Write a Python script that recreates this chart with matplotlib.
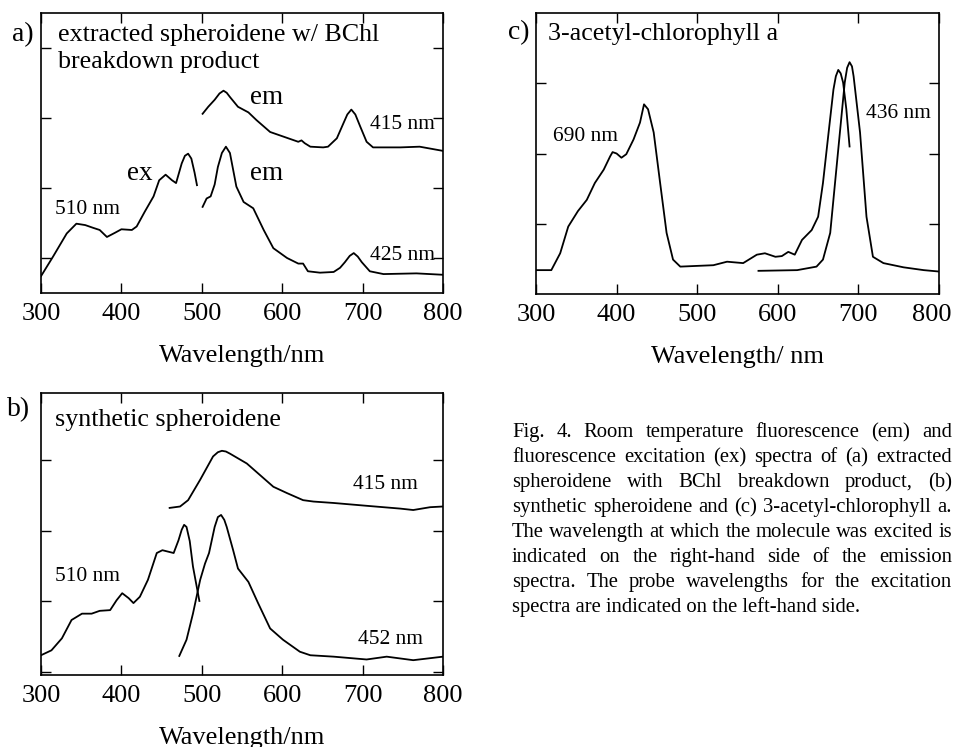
import matplotlib.pyplot as plt
import matplotlib.transforms as mtransforms

plt.rcParams['font.family'] = ['Liberation Serif', 'DejaVu Serif']

# ---------------- panel a: extracted spheroidene ----------------
a_ex_wl = [300, 315, 332, 344, 355, 365, 373, 382, 392, 400, 413, 419, 429,
           440, 447, 455, 463, 468, 475, 479, 483, 487, 491, 494]
a_ex_val = [0.24, 0.52, 0.85, 0.99, 0.97, 0.93, 0.90, 0.80, 0.86, 0.91, 0.90,
            0.95, 1.16, 1.38, 1.61, 1.69, 1.61, 1.57, 1.85, 1.96, 1.99, 1.92,
            1.72, 1.54]

a_em425_wl = [501, 506, 511, 516, 520, 525, 530, 535, 543, 552, 564, 577, 589,
              606, 620, 626, 632, 647, 664, 672, 678, 684, 689, 694, 699, 709,
              726, 767, 800]
a_em425_val = [1.23, 1.35, 1.38, 1.55, 1.80, 2.00, 2.09, 2.00, 1.52, 1.30,
               1.21, 0.90, 0.64, 0.50, 0.42, 0.42, 0.31, 0.29, 0.30, 0.36,
               0.44, 0.53, 0.57, 0.52, 0.44, 0.31, 0.27, 0.28, 0.26]

a_em415_wl = [501, 508, 516, 522, 527, 531, 535, 545, 558, 568, 585, 610, 620,
              624, 628, 635, 651, 657, 668, 676, 681, 686, 691, 697, 705, 713,
              747, 771, 800]
a_em415_val = [2.56, 2.66, 2.76, 2.85, 2.89, 2.86, 2.80, 2.66, 2.58, 2.47,
               2.30, 2.20, 2.16, 2.18, 2.14, 2.09, 2.08, 2.09, 2.21, 2.42,
               2.55, 2.62, 2.55, 2.38, 2.16, 2.08, 2.08, 2.09, 2.03]

# ---------------- panel b: synthetic spheroidene ----------------
b_ex_wl = [300, 313, 326, 338, 351, 363, 373, 386, 394, 401, 409, 415, 423,
           433, 444, 451, 458, 465, 471, 475, 478, 481, 485, 489, 497]
b_ex_val = [0.28, 0.35, 0.52, 0.78, 0.87, 0.87, 0.91, 0.92, 1.06, 1.16, 1.09,
            1.02, 1.11, 1.35, 1.73, 1.77, 1.75, 1.73, 1.91, 2.06, 2.13, 2.10,
            1.90, 1.54, 1.05]

b_em452_wl = [472, 481, 489, 498, 504, 509, 516, 520, 524, 528, 531, 539, 545,
              558, 570, 585, 601, 622, 635, 664, 705, 730, 763, 800]
b_em452_val = [0.27, 0.50, 0.87, 1.35, 1.58, 1.73, 2.10, 2.24, 2.27, 2.20,
               2.10, 1.77, 1.51, 1.32, 1.02, 0.66, 0.50, 0.33, 0.28, 0.26,
               0.22, 0.26, 0.21, 0.26]

b_em415_wl = [460, 473, 483, 498, 514, 520, 525, 530, 535, 556, 572, 589, 606,
              626, 639, 664, 705, 747, 763, 784, 800]
b_em415_val = [2.37, 2.39, 2.48, 2.77, 3.10, 3.16, 3.18, 3.17, 3.14, 3.00,
               2.84, 2.67, 2.58, 2.48, 2.46, 2.44, 2.40, 2.36, 2.34, 2.38, 2.39]

# ---------------- panel c: 3-acetyl-chlorophyll a ----------------
c_ex_wl = [300, 319, 330, 340, 352, 363, 373, 384, 392, 395, 400, 406, 412,
           421, 429, 434, 439, 446, 454, 462, 470, 479, 499, 520, 537, 557,
           574, 584, 597, 605, 613, 621, 630, 642, 650, 656, 663, 669, 672,
           675, 678, 681, 685, 689]
c_ex_val = [0.34, 0.34, 0.58, 0.96, 1.18, 1.34, 1.58, 1.77, 1.96, 2.02, 2.00,
            1.94, 1.99, 2.20, 2.44, 2.70, 2.63, 2.30, 1.58, 0.87, 0.49, 0.39,
            0.40, 0.41, 0.46, 0.44, 0.56, 0.58, 0.53, 0.54, 0.60, 0.56, 0.77,
            0.91, 1.10, 1.58, 2.30, 2.91, 3.10, 3.19, 3.14, 3.01, 2.63, 2.10]

c_em_wl = [576, 624, 648, 656, 665, 675, 683, 686, 689, 692, 694, 702, 710,
           718, 731, 756, 781, 800]
c_em_val = [0.33, 0.34, 0.39, 0.49, 0.87, 2.06, 3.01, 3.22, 3.30, 3.24, 3.10,
            2.30, 1.10, 0.53, 0.44, 0.38, 0.34, 0.32]

x_ticks = [300, 400, 500, 600, 700, 800]

caption_lines = [
    "Fig. 4. Room temperature fluorescence (em) and",
    "fluorescence excitation (ex) spectra of (a) extracted",
    "spheroidene with BChl breakdown product, (b)",
    "synthetic spheroidene and (c) 3-acetyl-chlorophyll a.",
    "The wavelength at which the molecule was excited is",
    "indicated on the right-hand side of the emission",
    "spectra. The probe wavelengths for the excitation",
    "spectra are indicated on the left-hand side.",
]

TICK_FS = 19
TITLE_FS = 18.7
NM_FS = 15.5
EM_FS = 19.5
LW = 1.3

W_PX, H_PX = 958, 747

fig = plt.figure(figsize=(W_PX / 100, H_PX / 100), dpi=100)

ax_a = fig.add_axes([0.0428, 0.6078, 0.4196, 0.3748])
ax_b = fig.add_axes([0.0428, 0.0964, 0.4196, 0.3775])
ax_c = fig.add_axes([0.5595, 0.6064, 0.4207, 0.3762])


def style_axes(ax, yticks, xlabel):
    ax.set_xlim(300, 800)
    ax.set_ylim(0, 4)
    ax.set_xticks(x_ticks)
    ax.set_yticks(yticks)
    ax.set_yticklabels([])
    ax.tick_params(direction='in', top=True, right=True,
                   length=7, width=1, labelsize=TICK_FS, pad=7)
    ax.set_xlabel(xlabel, fontsize=TICK_FS, labelpad=14.5)
    for sp in ax.spines.values():
        sp.set_linewidth(1.2)


# panel a
ax_a.plot(a_ex_wl, a_ex_val, color='black', lw=LW)
ax_a.plot(a_em425_wl, a_em425_val, color='black', lw=LW)
ax_a.plot(a_em415_wl, a_em415_val, color='black', lw=LW)
style_axes(ax_a, [0.5, 1.5, 2.5, 3.5], "Wavelength/nm")
ax_a.text(321, 3.69, "extracted spheroidene w/ BChl", fontsize=TITLE_FS, va='center')
ax_a.text(321, 3.30, "breakdown product", fontsize=TITLE_FS, va='center')
ax_a.text(560, 2.79, "em", fontsize=EM_FS, va='center')
ax_a.text(407, 1.71, "ex", fontsize=EM_FS, va='center')
ax_a.text(560, 1.71, "em", fontsize=EM_FS, va='center')
ax_a.text(317, 1.19, "510 nm", fontsize=NM_FS, va='center')
ax_a.text(709, 2.41, "415 nm", fontsize=NM_FS, va='center')
ax_a.text(709, 0.53, "425 nm", fontsize=NM_FS, va='center')

# panel b
ax_b.plot(b_ex_wl, b_ex_val, color='black', lw=LW)
ax_b.plot(b_em452_wl, b_em452_val, color='black', lw=LW)
ax_b.plot(b_em415_wl, b_em415_val, color='black', lw=LW)
style_axes(ax_b, [0.04, 1.05, 2.04, 3.05], "Wavelength/nm")
ax_b.text(317, 3.62, "synthetic spheroidene", fontsize=TITLE_FS, va='center')
ax_b.text(688, 2.70, "415 nm", fontsize=NM_FS, va='center')
ax_b.text(317, 1.39, "510 nm", fontsize=NM_FS, va='center')
ax_b.text(694, 0.50, "452 nm", fontsize=NM_FS, va='center')

# panel c
ax_c.plot(c_ex_wl, c_ex_val, color='black', lw=LW)
ax_c.plot(c_em_wl, c_em_val, color='black', lw=LW)
style_axes(ax_c, [1, 2, 3], "Wavelength/ nm")
ax_c.text(315, 3.70, "3-acetyl-chlorophyll a", fontsize=TITLE_FS, va='center')
ax_c.text(321, 2.24, "690 nm", fontsize=NM_FS, va='center')
ax_c.text(709, 2.57, "436 nm", fontsize=NM_FS, va='center')

# nudge the last tick label of panel c so it stays inside the figure
shift = mtransforms.ScaledTranslation(-7 / 100, 0, fig.dpi_scale_trans)
last_lab = ax_c.get_xticklabels()[-1]
last_lab.set_transform(last_lab.get_transform() + shift)

# panel letters
fig.text(12 / W_PX, 1 - 35 / H_PX, "a)", fontsize=20, va='center')
fig.text(7 / W_PX, 1 - 410 / H_PX, "b)", fontsize=20, va='center')
fig.text(508 / W_PX, 1 - 33 / H_PX, "c)", fontsize=20, va='center')

# caption, justified word by word
renderer = fig.canvas.get_renderer()


def text_width(s, fs):
    t = fig.text(0, 0, s, fontsize=fs)
    w = t.get_window_extent(renderer).width
    t.remove()
    return w


x0 = 512
line_w = 440
widest = max(text_width(s, 16) for s in caption_lines[:-1])
cap_fs = 16 * line_w / widest

for i, line in enumerate(caption_lines):
    y = 1 - (437 + 25 * i) / H_PX
    words = line.split()
    if i == len(caption_lines) - 1:
        fig.text(x0 / W_PX, y, line, fontsize=cap_fs, va='baseline')
        continue
    widths = [text_width(w, cap_fs) for w in words]
    gap = (line_w - sum(widths)) / (len(words) - 1)
    x = x0
    for word, w in zip(words, widths):
        fig.text(x / W_PX, y, word, fontsize=cap_fs, va='baseline')
        x += w + gap

fig.savefig("out.png", dpi=100)
